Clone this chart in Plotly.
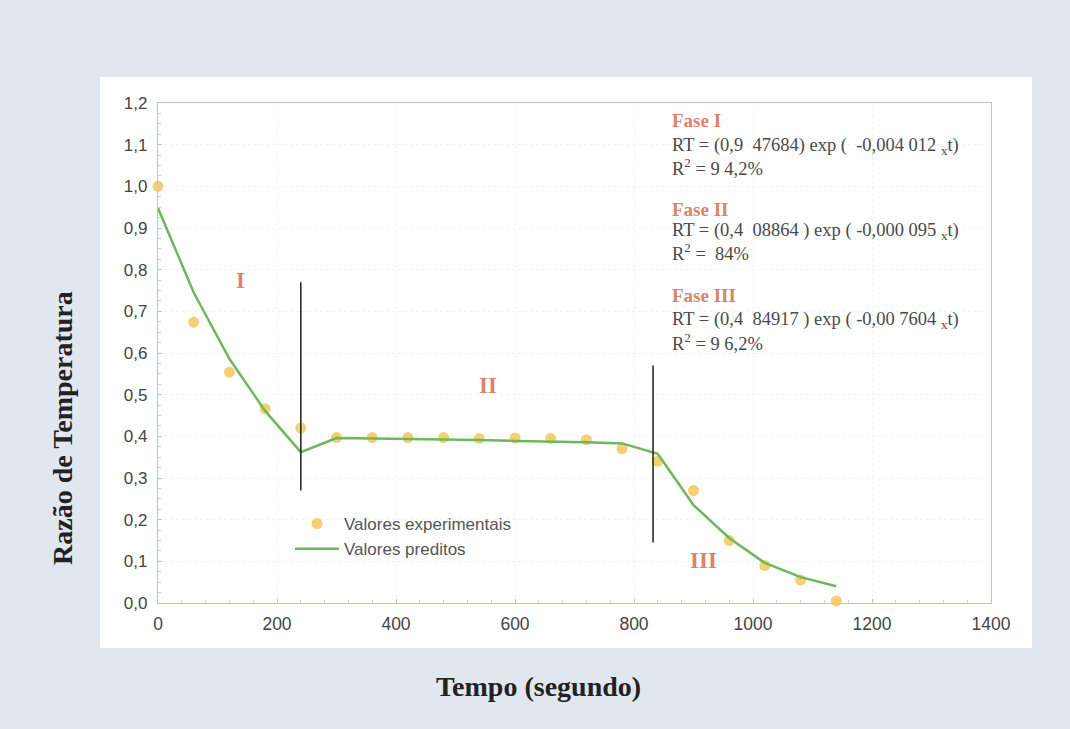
import plotly.graph_objects as go

# ---- data ----
time_exp = [0, 60, 120, 180, 240, 300, 360, 420, 480, 540, 600, 660, 720, 780,
            840, 900, 960, 1020, 1080, 1140]
rt_exp = [1.00, 0.674, 0.554, 0.466, 0.42, 0.397, 0.397, 0.397, 0.397, 0.395,
          0.396, 0.395, 0.392, 0.370, 0.340, 0.270, 0.150, 0.090, 0.055, 0.005]

time_pred = [0, 60, 120, 180, 240, 300, 360, 420, 480, 540, 600, 660, 720, 780,
             840, 900, 960, 1020, 1080, 1140]
rt_pred = [0.948, 0.745, 0.586, 0.461, 0.362, 0.396, 0.395, 0.394, 0.392, 0.391,
           0.389, 0.388, 0.386, 0.383, 0.358, 0.235, 0.156, 0.096, 0.062, 0.040]

boundary_t = [240, 832]
boundary_top = [0.77, 0.57]
boundary_bottom = [0.27, 0.145]

phase_labels = ["I", "II", "III"]
phase_label_t = [139, 555, 916]
phase_label_rt = [0.775, 0.523, 0.103]

eq_titles = ["Fase I", "Fase II", "Fase III"]
eq_lines = [
    "RT = (0,9  47684) exp (  -0,004 012 <sub>x</sub>t)",
    "RT = (0,4  08864 ) exp ( -0,000 095 <sub>x</sub>t)",
    "RT = (0,4  84917 ) exp ( -0,00 7604 <sub>x</sub>t)",
]
r2_lines = ["R<sup>2</sup> = 9 4,2%", "R<sup>2</sup> =  84%", "R<sup>2</sup> = 9 6,2%"]

x_title = "Tempo (segundo)"
y_title = "Razão de Temperatura"

x_ticks = [0, 200, 400, 600, 800, 1000, 1200, 1400]
y_ticks = [0.0, 0.1, 0.2, 0.3, 0.4, 0.5, 0.6, 0.7, 0.8, 0.9, 1.0, 1.1, 1.2]

SERIF = "Liberation Serif, Times New Roman, serif"
SANS = "Liberation Sans, Arial, sans-serif"

# ---- figure ----
fig = go.Figure()

fig.add_trace(go.Scatter(
    x=time_exp, y=rt_exp, mode="markers", name="Valores experimentais",
    marker=dict(color="#f6cf72", size=11, line=dict(width=0)),
    cliponaxis=False,
))
fig.add_trace(go.Scatter(
    x=time_pred, y=rt_pred, mode="lines", name="Valores preditos",
    line=dict(color="#6db85c", width=2.5),
))

L, R, T, B = 158, 991, 103, 603
def px2paper_x(p):
    return (p - L) / (R - L)
def px2paper_y(p):
    return (B - p) / (B - T)

shapes = []
shapes.append(dict(type="rect", xref="paper", yref="paper",
                   x0=px2paper_x(100), x1=px2paper_x(1032),
                   y0=px2paper_y(648), y1=px2paper_y(77),
                   fillcolor="white", line=dict(width=0), layer="below"))
for t, top, bot in zip(boundary_t, boundary_top, boundary_bottom):
    shapes.append(dict(type="line", xref="x", yref="y", x0=t, x1=t, y0=bot, y1=top,
                       line=dict(color="#2a2a2a", width=1.6)))

annotations = []
for lab, t, v in zip(phase_labels, phase_label_t, phase_label_rt):
    annotations.append(dict(x=t, y=v, xref="x", yref="y", text="<b>" + lab + "</b>",
                            showarrow=False,
                            font=dict(family=SERIF, size=23, color="#d9846c")))

eq_y_px = [(120, 146, 167), (209, 231, 252), (295, 320, 342)]
for title, eq, r2, (y1, y2, y3) in zip(eq_titles, eq_lines, r2_lines, eq_y_px):
    annotations.append(dict(x=px2paper_x(670), y=px2paper_y(y1), xref="paper", yref="paper",
                            text="<b>" + title + "</b>", showarrow=False, xanchor="left",
                            yanchor="middle",
                            font=dict(family=SERIF, size=19, color="#d9846c")))
    annotations.append(dict(x=px2paper_x(670), y=px2paper_y(y2), xref="paper", yref="paper",
                            text=eq, showarrow=False, xanchor="left", yanchor="middle",
                            font=dict(family=SERIF, size=18.5, color="#4a4a4a")))
    annotations.append(dict(x=px2paper_x(670), y=px2paper_y(y3), xref="paper", yref="paper",
                            text=r2, showarrow=False, xanchor="left", yanchor="middle",
                            font=dict(family=SERIF, size=18.5, color="#4a4a4a")))

# axis titles
annotations.append(dict(x=px2paper_x(538), y=px2paper_y(686), xref="paper", yref="paper",
                        text="<b>" + x_title + "</b>", showarrow=False,
                        xanchor="center", yanchor="middle",
                        font=dict(family=SERIF, size=28, color="#222222")))
annotations.append(dict(x=px2paper_x(62), y=px2paper_y(428), xref="paper", yref="paper",
                        text="<b>" + y_title + "</b>", showarrow=False, textangle=-90,
                        xanchor="center", yanchor="middle",
                        font=dict(family=SERIF, size=28, color="#222222")))

fig.update_layout(
    width=1070, height=729,
    margin=dict(l=L, r=1070 - R, t=T, b=729 - B),
    paper_bgcolor="#e1e7ef",
    plot_bgcolor="white",
    separators=",.",
    shapes=shapes,
    annotations=annotations,
    showlegend=True,
    legend=dict(x=px2paper_x(290), y=px2paper_y(506), xanchor="left", yanchor="top",
                bgcolor="rgba(0,0,0,0)",
                font=dict(family=SANS, size=17, color="#555555"),
                itemwidth=44, tracegroupgap=0),
    xaxis=dict(
        range=[0, 1400], tickvals=x_ticks, tickformat="d",
        showline=True, linecolor="#b4c6d8", linewidth=1.2, mirror=True,
        ticks="inside", ticklen=4, tickcolor="#b4c6d8",
        minor=dict(ticks="inside", ticklen=3, tickcolor="#c8d4e0", dtick=40),
        showgrid=True, gridcolor="#f4f4f4", griddash="dot", zeroline=False,
        ticklabelstandoff=5,
        tickfont=dict(family="Liberation Sans Narrow, Liberation Sans, Arial, sans-serif",
                      size=17.5, color="#444444"),
    ),
    yaxis=dict(
        range=[0, 1.2], tickvals=y_ticks, tickformat=".1f",
        showline=True, linecolor="#b4c6d8", linewidth=1.2, mirror=True,
        ticks="inside", ticklen=4, tickcolor="#b4c6d8",
        minor=dict(ticks="inside", ticklen=3, tickcolor="#c8d4e0", dtick=0.025),
        showgrid=True, gridcolor="#f3f3f3", griddash="dot", zeroline=False,
        ticklabelstandoff=6,
        tickfont=dict(family=SANS, size=17, color="#444444"),
    ),
)

fig.write_html("out.html")
